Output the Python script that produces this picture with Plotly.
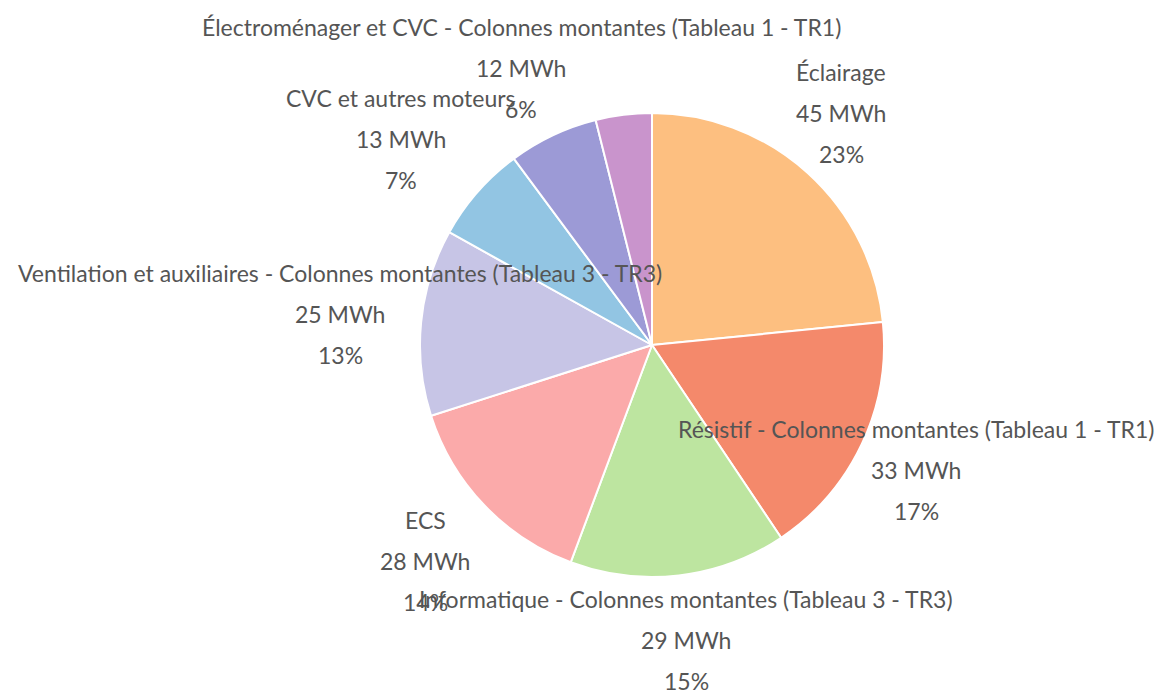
import numpy as np
import plotly.graph_objects as go

labels = [
    "Éclairage",
    "Résistif - Colonnes montantes (Tableau 1 - TR1)",
    "Informatique - Colonnes montantes (Tableau 3 - TR3)",
    "ECS",
    "Ventilation et auxiliaires - Colonnes montantes (Tableau 3 - TR3)",
    "CVC et autres moteurs",
    "Électroménager et CVC - Colonnes montantes (Tableau 1 - TR1)",
    "Autres",
]
values = [45, 33, 29, 27.6, 25, 13, 12, 7.5]
show_label = [True, True, True, True, True, True, True, False]
colors = ["#FDBF80", "#F4896B", "#BDE5A0", "#FBAAAA", "#C7C5E6", "#92C5E3", "#9C9AD6", "#C994CC"]

W, H = 1176, 695
cx, cy, R = 644, 337, 232   # layout box (renders ~8px right/down)
ml = cx - R
mt = cy - R
mr = W - ml - 2 * R
mb = H - mt - 2 * R

fig = go.Figure(go.Pie(
    labels=labels, values=values, sort=False, direction="clockwise", rotation=0,
    marker=dict(colors=colors, line=dict(color="white", width=2)),
    textinfo="none", hoverinfo="label+value+percent", showlegend=False,
))

vals = np.array(values, dtype=float)
total = vals.sum()
cum = np.cumsum(vals) - vals / 2
ang = cum / total * 2 * np.pi
radii = [1.29, 1.26, 1.28, 1.35, 1.35, 1.40, 1.32, 1.3]
ang_off = [-3, 0, 0, 0, 0, -2, 0, 0]
annos = []
for i, (lab, v) in enumerate(zip(labels, values)):
    if not show_label[i]:
        continue
    a = ang[i] + np.deg2rad(ang_off[i])
    px = cx + radii[i] * R * np.sin(a)
    py = cy - radii[i] * R * np.cos(a)
    xp = (px - ml) / (2 * R)
    yp = (H - mb - py) / (2 * R)
    pct = f"{round(v / total * 100):.0f}%"
    for j, t in enumerate([lab, f"{round(v):.0f} MWh", pct]):
        annos.append(dict(x=xp, y=yp, xref="paper", yref="paper", text=t, showarrow=False,
                          xanchor="center", yanchor="middle", yshift=(1 - j) * 41,
                          font=dict(family="Lato", size=23, color="#555555")))

fig.update_layout(
    width=W, height=H, paper_bgcolor="white", plot_bgcolor="white",
    margin=dict(l=ml, r=mr, t=mt, b=mb, autoexpand=False),
    annotations=annos,
)
fig.write_html("out.html")
